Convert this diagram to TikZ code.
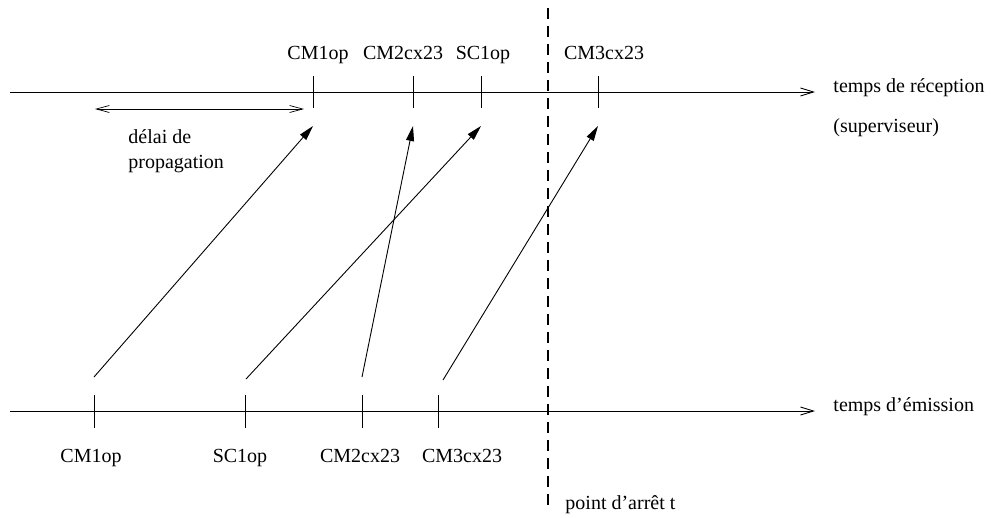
\documentclass[tikz,border=0pt]{standalone}
\usepackage{fontspec}
\setmainfont{Liberation Serif}
\usetikzlibrary{arrows.meta}

\begin{document}
\begin{tikzpicture}[x = 1pt, y = -1pt, line width = 0.9pt, >={Triangle[length=15pt, width=8pt]},
  font = \fontsize{20}{25}\selectfont,
  axe/.style = {-{Straight Barb[length=13pt, width=8pt]}},
  lbl/.style = {inner sep = 0pt, anchor = base}]
\useasboundingbox (0,0) rectangle (991,517);
% axes
\coordinate (r0) at (10,92);
\coordinate (r1) at (815,92);
\coordinate (e0) at (10,411);
\coordinate (e1) at (815,411);
\draw[axe] (r0) -- (r1);
\draw[axe] (e0) -- (e1);
\node[lbl, anchor = base west] (recep) at (833,92) {temps de réception};
\node[lbl, anchor = base west] (superv) at (833,132) {(superviseur)};
\node[lbl, anchor = base west] (emis) at (833,411) {temps d'émission};
% ticks, reception
\foreach \n/\x in {rcm1/313, rcm2/413, rsc1/481, rcm3/598}{
  \draw (\x,76) -- (\x,108);
  \coordinate (\n) at (\x,126);
}
\node[lbl] (tcm1) at (318,59) {CM1op};
\node[lbl] (tcm2) at (403,59) {CM2cx23};
\node[lbl] (tsc1) at (483,59) {SC1op};
\node[lbl] (tcm3) at (604,59) {CM3cx23};
% ticks, emission
\foreach \x in {94, 245, 362, 438}
  \draw (\x,395) -- (\x,428);
\coordinate (ecm1) at (94,377);
\coordinate (esc1) at (246,379);
\coordinate (ecm2) at (362,377);
\coordinate (ecm3) at (443,380);
\node[lbl] (bcm1) at (91,462) {CM1op};
\node[lbl] (bsc1) at (240,462) {SC1op};
\node[lbl] (bcm2) at (360,462) {CM2cx23};
\node[lbl] (bcm3) at (462,462) {CM3cx23};
% messages
\draw[->] (ecm1) -- (rcm1);
\draw[->] (esc1) -- (rsc1);
\draw[->] (ecm2) -- (rcm2);
\draw[->] (ecm3) -- (rcm3);
% delai
\coordinate (d0) at (95,109);
\coordinate (d1) at (304,109);
\draw[{Straight Barb[length=13pt, width=7pt]}-{Straight Barb[length=13pt, width=7pt]}, line width = 0.7pt] (d0) -- (d1);
\node[lbl, anchor = base west] (delai) at (128,143) {délai de};
\node[lbl, anchor = base west] (propa) at (128,168) {propagation};
% point d'arret
\coordinate (p0) at (548,8);
\coordinate (p1) at (548,505);
\draw[dash pattern = on 11pt off 7pt, line width = 1.1pt] (p0) -- (p1);
\node[lbl, anchor = base west] (arret) at (565,509) {point d'arrêt t};
\end{tikzpicture}
\end{document}
